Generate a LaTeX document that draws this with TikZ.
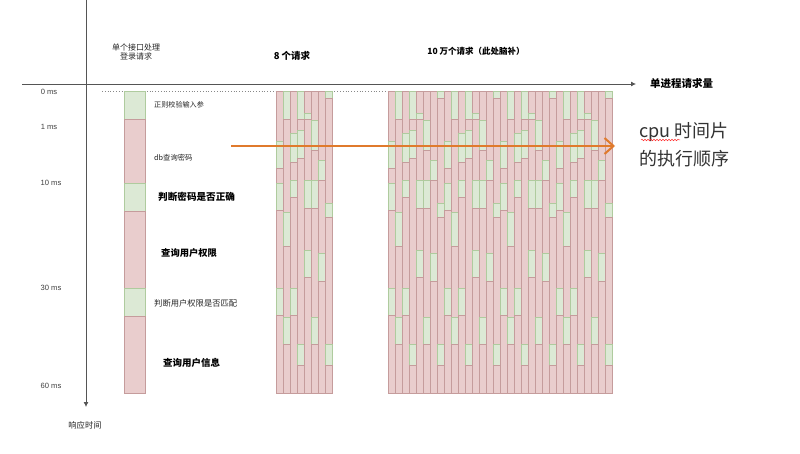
\documentclass[tikz,border=0pt]{standalone}
\usepackage{fontspec}
\setmainfont{Liberation Sans}
\newfontfamily\cjk{Noto Sans CJK SC}
\usetikzlibrary{arrows.meta,decorations.pathmorphing}
\definecolor{fr}{HTML}{E9CDCD}
\definecolor{dr}{HTML}{C59C9C}
\definecolor{fg}{HTML}{DCE9D5}
\definecolor{dg}{HTML}{AFCB9E}
\definecolor{axisc}{HTML}{555555}
\definecolor{orangec}{HTML}{E07A2C}
\tikzset{
  axisline/.style={draw=axisc,line width=0.8pt},
  mslabel/.style={font=\fontsize{7.6}{8}\selectfont,text=black!75,inner sep=0pt},
  cjklabel/.style={font=\cjk\fontsize{#1}{#1}\selectfont,inner sep=0pt,text=black!85},
  cjkbold/.style={font=\cjk\bfseries\fontsize{#1}{#1}\selectfont,inner sep=0pt,text=black},
}
\newcommand\drawcol[2]{\foreach \c/\a/\b in {#2}{\path[fill=f\c,draw=d\c,line width=0.7pt] (#1,\a) rectangle (#1+7,\b);}}
\begin{document}
\begin{tikzpicture}[x=1pt,y=-1pt]
\useasboundingbox[fill=white] (0,0) rectangle (800,454);

% axes
\coordinate (vtop) at (86,0);
\coordinate (vbot) at (86,407);
\coordinate (hl) at (22,84);
\coordinate (hr) at (636,84);
\draw[axisline,-{Latex[length=5pt,width=5pt]}] (vtop) -- (vbot);
\draw[axisline,-{Latex[length=5pt,width=5pt]}] (hl) -- (hr);

% dotted zero line
\coordinate (d0) at (102,91);
\coordinate (d1) at (388,91);
\draw[axisc!70,dotted,line width=0.8pt] (d0) -- (d1);

% single request column
\foreach \c/\a/\b in {g/91/119, r/119/183, g/183/211, r/211/288, g/288/316, r/316/393}
  {\path[fill=f\c,draw=d\c,line width=0.7pt] (124,\a) rectangle (145,\b);}

% request blocks (8-column pattern repeated)
\foreach \bx in {276,388,444,500,556}{
  \drawcol{\bx}{r/91/141, g/141/168, r/168/183, g/183/210, r/210/288, g/288/315, r/315/393}
  \drawcol{\bx+7}{g/91/119, r/119/212, g/212/246, r/246/317, g/317/344, r/344/393}
  \drawcol{\bx+14}{r/91/133, g/133/162, r/162/180, g/180/197, r/197/288, g/288/315, r/315/393}
  \drawcol{\bx+21}{g/91/119, r/119/130, g/130/158, r/158/344, g/344/365, r/365/393}
  \drawcol{\bx+28}{r/91/113, g/113/119, r/119/180, g/180/208, r/208/250, g/250/277, r/277/393}
  \drawcol{\bx+35}{r/91/120, g/120/150, r/150/180, g/180/208, r/208/317, g/317/344, r/344/393}
  \drawcol{\bx+42}{r/91/160, g/160/180, r/180/253, g/253/281, r/281/393}
  \drawcol{\bx+49}{g/91/98, r/98/203, g/203/217, r/217/344, g/344/365, r/365/393}
}

% ms labels
\node[mslabel] (m0) at (49,92) {0 ms};
\node[mslabel] (m1) at (49,127) {1 ms};
\node[mslabel] (m10) at (51,183) {10 ms};
\node[mslabel] (m30) at (51,288) {30 ms};
\node[mslabel] (m60) at (51,386) {60 ms};

% headers
\node[cjklabel=8,align=center] (h1) at (136,52) {单个接口处理\\[1.5pt]登录请求};
\node[cjkbold=9.5] (h2) at (292,56) {8 个请求};
\node[cjkbold=8.5] (h3) at (476,51) {10 万个请求（此处脑补）};
\node[cjkbold=10.5,anchor=west] (h4) at (650,84) {单进程请求量};
\node[cjklabel=8.3] (yl) at (85,425) {响应时间};

% step labels
\node[cjklabel=7.1,anchor=west] (s1) at (154,105) {正则校验输入参};
\node[cjklabel=7.3,anchor=west] (s2) at (154,158) {db查询密码};
\node[cjkbold=9.6,anchor=west] (s3) at (158,197) {判断密码是否正确};
\node[cjkbold=9.3,anchor=west] (s4) at (161,253) {查询用户权限};
\node[cjklabel=8.3,anchor=west] (s5) at (154,303) {判断用户权限是否匹配};
\node[cjkbold=9.5,anchor=west] (s6) at (163,363) {查询用户信息};

% orange arrow
\coordinate (os) at (231,146);
\coordinate (oe) at (615,146);
\draw[orangec,line width=2pt,-{Straight Barb[length=9pt,width=16pt,line width=2pt]}] (os) -- (oe);

% cpu text
\node[cjklabel=18,anchor=west,text=black!80] (c1) at (639,132) {cpu 时间片};
\node[cjklabel=18,anchor=west,text=black!80] (c2) at (639,159) {的执行顺序};
\coordinate (w0) at (641,140);
\coordinate (w1) at (680,140);
\draw[red!80,line width=0.5pt,decorate,decoration={snake,amplitude=0.8pt,segment length=3pt}] (w0) -- (w1);
\end{tikzpicture}
\end{document}
